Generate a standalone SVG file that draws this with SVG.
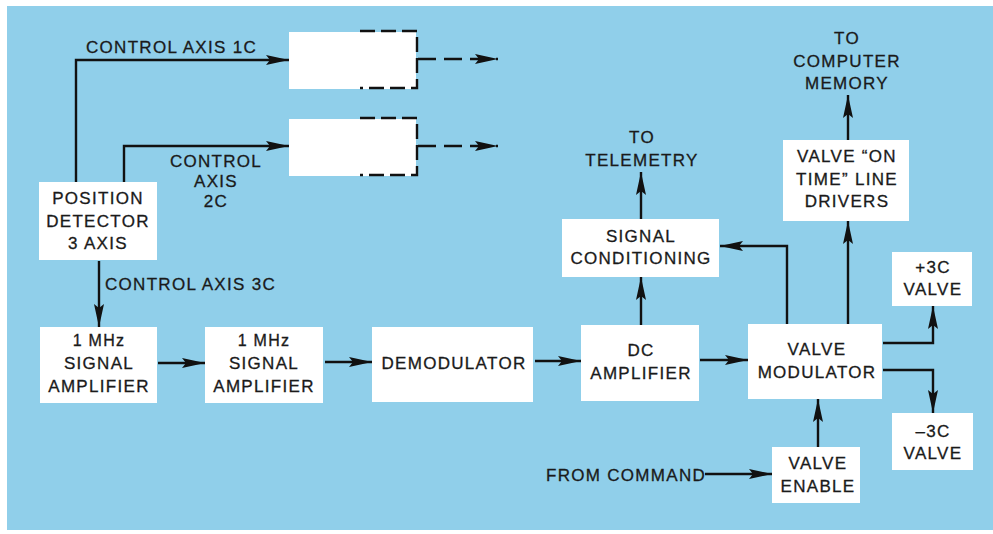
<svg xmlns="http://www.w3.org/2000/svg" width="993" height="534" viewBox="0 0 993 534">
<defs>
<marker id="ah" markerUnits="userSpaceOnUse" markerWidth="26" markerHeight="12" refX="23" refY="5" orient="auto">
<path d="M0,0 L23,5 L0,10 L4,5 z" fill="#111"/>
</marker>
<style>
.bx{fill:#fff;stroke:none}
.t{font-family:"Liberation Sans",Arial,sans-serif;font-size:17px;letter-spacing:1.3px;fill:#1a1a1a;stroke:#1a1a1a;stroke-width:0.3;text-anchor:middle}
.l{text-anchor:start}
.c{fill:none;stroke:#111;stroke-width:2.4}
.d{fill:none;stroke:#111;stroke-width:2.4;stroke-dasharray:15 6}
.da{fill:none;stroke:#111;stroke-width:2.4;stroke-dasharray:18 8}
</style>
</defs>
<rect x="0" y="0" width="993" height="534" fill="#fff"/>
<rect x="7" y="6" width="986" height="524" fill="#90cfea"/>

<g id="box1c"><rect class="bx" x="289" y="32" width="127" height="57"/></g>
<g id="box2c"><rect class="bx" x="289" y="119" width="127" height="57"/></g>

<g id="posdet"><rect class="bx" x="39" y="182" width="118" height="78"/>
<text class="t" x="98" y="204">POSITION</text><text class="t" x="98" y="227">DETECTOR</text><text class="t" x="98" y="249">3 AXIS</text></g>

<g id="amp1"><rect class="bx" x="40" y="327" width="117" height="76"/>
<text class="t" style="font-size:16px" x="99" y="346">1 MHz</text><text class="t" x="99" y="369">SIGNAL</text><text class="t" x="99" y="392">AMPLIFIER</text></g>

<g id="amp2"><rect class="bx" x="205" y="327" width="118" height="76"/>
<text class="t" style="font-size:16px" x="264" y="346">1 MHz</text><text class="t" x="264" y="369">SIGNAL</text><text class="t" x="264" y="392">AMPLIFIER</text></g>

<g id="demod"><rect class="bx" x="372" y="327" width="161" height="75"/>
<text class="t" x="454" y="369">DEMODULATOR</text></g>

<g id="dcamp"><rect class="bx" x="581" y="325" width="118" height="76"/>
<text class="t" x="641" y="356">DC</text><text class="t" x="641" y="379">AMPLIFIER</text></g>

<g id="sigcond"><rect class="bx" x="562" y="219" width="157" height="58"/>
<text class="t" x="641" y="242">SIGNAL</text><text class="t" x="641" y="264">CONDITIONING</text></g>

<g id="valvemod"><rect class="bx" x="748" y="324" width="134" height="75"/>
<text class="t" x="817" y="355">VALVE</text><text class="t" x="817" y="378">MODULATOR</text></g>

<g id="linedrv"><rect class="bx" x="783" y="140" width="126" height="81"/>
<text class="t" x="847" y="162">VALVE “ON</text><text class="t" x="847" y="185">TIME” LINE</text><text class="t" x="847" y="207">DRIVERS</text></g>

<g id="plus3c"><rect class="bx" x="892" y="252" width="80" height="54"/>
<text class="t" x="933" y="273">+3C</text><text class="t" x="933" y="295">VALVE</text></g>

<g id="minus3c"><rect class="bx" x="892" y="413" width="81" height="57"/>
<text class="t" x="933" y="437">–3C</text><text class="t" x="933" y="459">VALVE</text></g>

<g id="enable"><rect class="bx" x="772" y="447" width="88" height="56"/>
<text class="t" x="818" y="469">VALVE</text><text class="t" x="818" y="492">ENABLE</text></g>

<g id="labels">
<text class="t l" x="86" y="53">CONTROL AXIS 1C</text>
<text class="t" x="216" y="167">CONTROL</text><text class="t" x="216" y="187">AXIS</text><text class="t" x="216" y="207">2C</text>
<text class="t l" x="105" y="290">CONTROL AXIS 3C</text>
<text class="t" x="642" y="143">TO</text><text class="t" x="642" y="166">TELEMETRY</text>
<text class="t" x="847" y="44">TO</text><text class="t" x="847" y="67">COMPUTER</text><text class="t" x="847" y="89">MEMORY</text>
<text class="t l" x="546" y="481">FROM COMMAND</text>
</g>

<g id="connectors">
<path class="c" d="M76,182 V60 H289" marker-end="url(#ah)"/>
<path class="c" d="M124,182 V146 H289" marker-end="url(#ah)"/>
<path class="c" d="M99,261 V327" marker-end="url(#ah)"/>
<path class="c" d="M158,363 H205" marker-end="url(#ah)"/>
<path class="c" d="M325,362 H372" marker-end="url(#ah)"/>
<path class="c" d="M535,361 H581" marker-end="url(#ah)"/>
<path class="c" d="M700,360 H748" marker-end="url(#ah)"/>
<path class="c" d="M641,325 V277" marker-end="url(#ah)"/>
<path class="c" d="M641,219 V172" marker-end="url(#ah)"/>
<path class="c" d="M787,324 V246 H720" marker-end="url(#ah)"/>
<path class="c" d="M848,324 V221" marker-end="url(#ah)"/>
<path class="c" d="M848,140 V95" marker-end="url(#ah)"/>
<path class="c" d="M883,343 H933 V306" marker-end="url(#ah)"/>
<path class="c" d="M883,370 H933 V413" marker-end="url(#ah)"/>
<path class="c" d="M818,447 V399" marker-end="url(#ah)"/>
<path class="c" d="M705,474 H772" marker-end="url(#ah)"/>
<path class="d" d="M360,31 H417 V88 H360"/>
<path class="d" d="M360,118 H417 V175 H360"/>
<path class="da" d="M418,59 H498" marker-end="url(#ah)"/>
<path class="da" d="M418,146 H498" marker-end="url(#ah)"/>
</g>
</svg>
